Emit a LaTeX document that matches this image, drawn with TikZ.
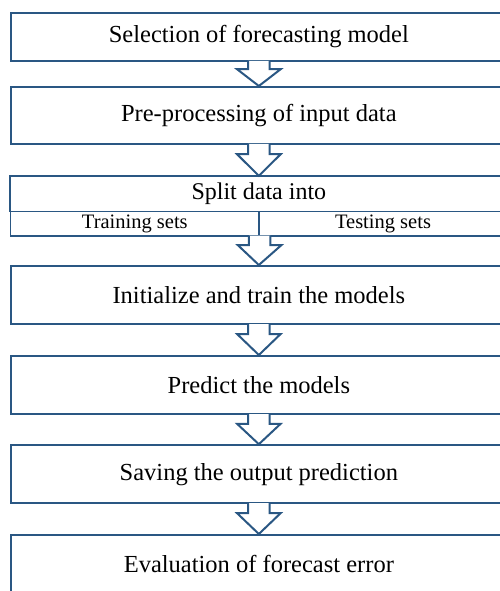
\documentclass[tikz,border=0pt]{standalone}
\usepackage{fontspec}
\setmainfont{Liberation Serif}
\usetikzlibrary{calc}
\definecolor{flowblue}{HTML}{2A5783}
\tikzset{
  stagebox/.style={draw=flowblue, line width=2bp, fill=white, inner sep=0pt,
    minimum width=496.3bp, font=\fontsize{24.5bp}{29bp}\selectfont},
  cellbox/.style={draw=flowblue, line width=1.2bp, inner sep=0pt,
    minimum height=24.5bp, font=\fontsize{20.5bp}{24bp}\selectfont},
  flowarrow/.style={draw=flowblue, line width=2bp, fill=white, line join=miter}
}
% hollow block arrow from the bottom of one stage to the top of the next
\newcommand\blockarrow[2]{%
  \path[flowarrow] let \p1=(#1), \p2=(#2), \n1={0.3*(\y1-\y2)} in
    (\x1-10.8bp,\y1+1bp) -- (\x1-10.8bp,\y1-\n1) -- (\x1-21.8bp,\y1-\n1)
    -- (\x2,\y2) -- (\x1+21.8bp,\y1-\n1) -- (\x1+10.8bp,\y1-\n1)
    -- (\x1+10.8bp,\y1+1bp);}
\begin{document}
\begin{tikzpicture}[x=1bp, y=-1bp]
\useasboundingbox (0,0) rectangle (500,591);
\clip (0,0) rectangle (500,591);

\node[stagebox, minimum height=48bp] (select) at (258.85,37) {Selection of forecasting model};
\node[stagebox, minimum height=57bp] (prep) at (258.85,115.5) {Pre-processing of input data};

% split stage: heading row and two sub-cells
\node[inner sep=0pt, minimum width=496.3bp, minimum height=35.5bp,
      font=\fontsize{24bp}{29bp}\selectfont] (splithead) at (258.85,193.75) {Split data into};
\node[cellbox, minimum width=248.3bp] (train) at (134.85,223.75) {Training sets};
\node[cellbox, minimum width=248bp] (test) at (383,223.75) {Testing sets};
\draw[flowblue, line width=2bp] (splithead.south west) -- (splithead.north west)
  -- (splithead.north east) -- (splithead.south east);
\coordinate (splitbottom) at (train.south east);

\node[stagebox, minimum height=58bp] (init) at (258.85,295) {Initialize and train the models};
\node[stagebox, minimum height=58bp] (predict) at (258.85,385) {Predict the models};
\node[stagebox, minimum height=58bp] (save) at (258.85,474.2) {Saving the output prediction};
\node[stagebox, minimum height=58bp] (evaluate) at (258.85,564) {Evaluation of forecast error};

\blockarrow{select.south}{prep.north}
\blockarrow{prep.south}{splithead.north}
\blockarrow{splitbottom}{init.north}
\blockarrow{init.south}{predict.north}
\blockarrow{predict.south}{save.north}
\blockarrow{save.south}{evaluate.north}
\end{tikzpicture}
\end{document}
